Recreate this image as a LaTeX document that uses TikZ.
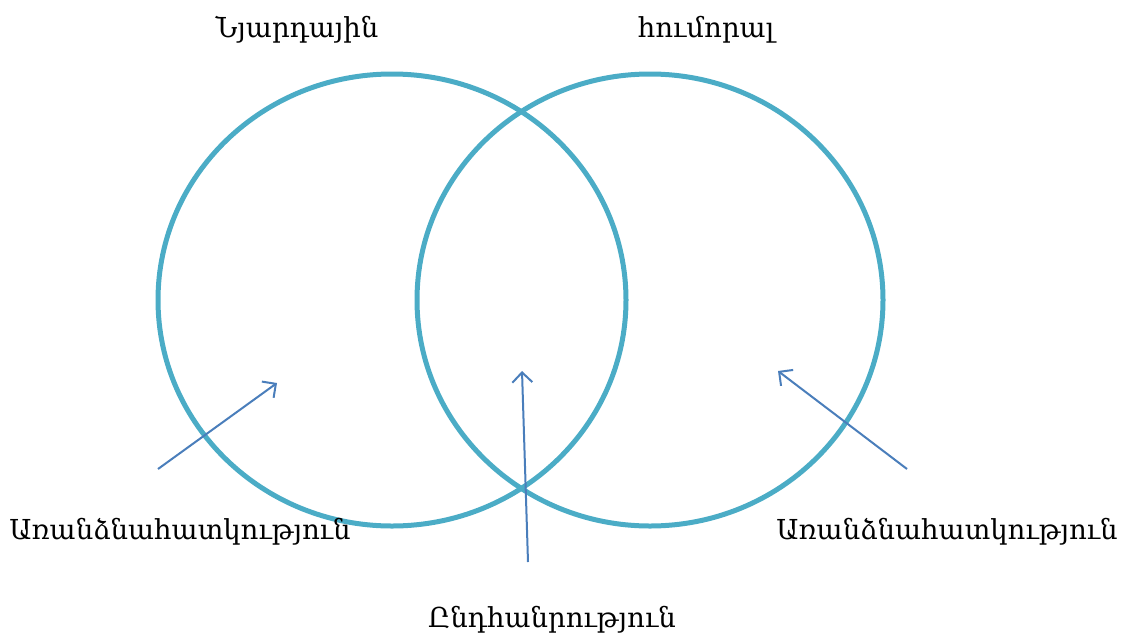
\documentclass[tikz,border=0pt]{standalone}
\usepackage{fontspec}
\setmainfont{DejaVu Serif}
\usepackage{xcolor}
\usepackage{tikz}
\usetikzlibrary{arrows.meta, positioning, calc}

\definecolor{ringblue}{HTML}{4BACC6}
\definecolor{arrowblue}{HTML}{4A7EBB}

\tikzset{
  ring/.style={line width=5pt, draw=ringblue},
  pointer/.style={line width=2pt, draw=arrowblue, -{Straight Barb[length=10pt,width=20pt,line width=2pt]}},
  label/.style={font=\fontsize{27.5}{32}\selectfont, inner sep=0pt}
}

\begin{document}
\begin{tikzpicture}[x=1pt, y=-1pt]
  % Frame of the picture (pixel units, y downwards)
  \useasboundingbox (0,0) rectangle (1126,637);

  % The two sets
  \coordinate (L) at (392,300);
  \coordinate (R) at (650,300);
  \draw[ring] (L) ellipse [x radius=234pt, y radius=226pt];
  \draw[ring] (R) ellipse [x radius=233pt, y radius=226pt];

  % Titles above the sets
  \node[label] (nerv) at (297,30) {Նյարդային};
  \node[label] (humr) at (706,30) {հումորալ};

  % Labels below
  \node[label] (featL) at (180,532) {Առանձնահատկություն};
  \node[label] (featR) at (947,532) {Առանձնահատկություն};
  \node[label] (common) at (552,620) {Ընդհանրություն};

  % Arrow end points
  \coordinate (aL) at (158,469);
  \coordinate (bL) at (277,383);
  \coordinate (aM) at (528,562);
  \coordinate (bM) at (522,371);
  \coordinate (aR) at (907,469);
  \coordinate (bR) at (778,371);

  % Pointers into the regions
  \draw[pointer] (aL) -- (bL);
  \draw[pointer] (aM) -- (bM);
  \draw[pointer] (aR) -- (bR);
\end{tikzpicture}
\end{document}
